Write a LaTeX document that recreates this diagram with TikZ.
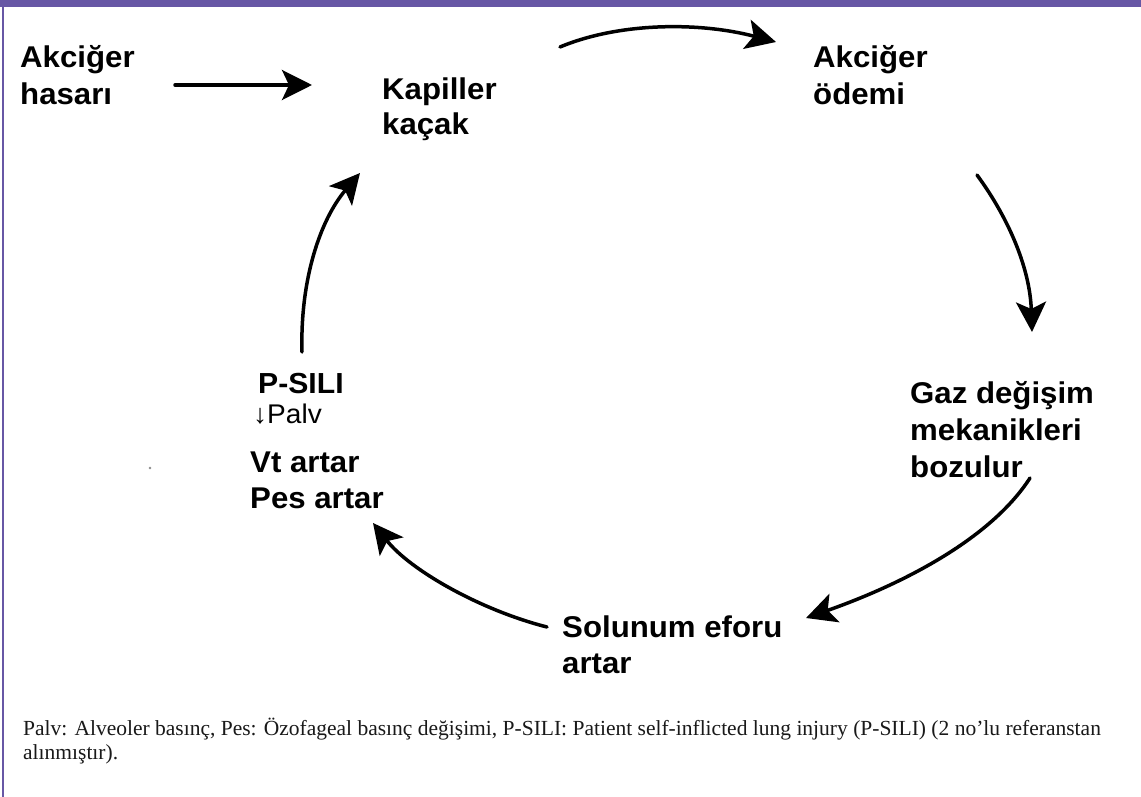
\documentclass[tikz,border=0pt]{standalone}
\usepackage{fontspec}
\usetikzlibrary{arrows.meta}
\newfontfamily\lblfont[FakeStretch=1.04]{Liberation Sans}
\newfontfamily\notefont{Liberation Serif}
\definecolor{barpurple}{HTML}{6757A5}
\tikzset{
  lbl/.style={anchor=base west, inner sep=0pt, align=left, text=black,
    font=\lblfont\bfseries\fontsize{30}{37}\selectfont},
  cyc/.style={line width=3.5pt, line cap=round, -{Stealth[length=30pt,width=30pt,inset=7pt]}},
}
\begin{document}
\begin{tikzpicture}[x=1pt,y=-1pt]
\useasboundingbox (0,0) rectangle (1141,797);
\fill[white] (0,0) rectangle (1141,797);
\fill[barpurple] (0,0) rectangle (1141,7);
\draw[barpurple, line width=1.2pt] (3,7) -- (3,797);

% labels (anchor = baseline of the last line)
\node[lbl] (hasar) at (20,105) {Akciğer\\hasarı};
\node[lbl,font=\lblfont\bfseries\fontsize{30}{35}\selectfont] (kap) at (382,135) {Kapiller\\kaçak};
\node[lbl] (odem) at (813,105) {Akciğer\\ödemi};
\node[lbl] (gaz) at (910,477) {Gaz değişim\\mekanikleri\\bozulur};
\node[lbl,font=\lblfont\bfseries\fontsize{30}{36}\selectfont] (sol) at (562,673) {Solunum eforu\\artar};
\node[lbl,font=\lblfont\bfseries\fontsize{29}{30}\selectfont] (psili) at (253,423) {\hspace{5pt}P-SILI\\{\mdseries\fontsize{27}{30}\selectfont ↓Palv}};
\node[lbl,font=\lblfont\bfseries\fontsize{30}{36}\selectfont] (vt) at (250,508) {Vt artar\\Pes artar};

% footnote
\node[anchor=base west, inner sep=0pt, align=left, text=black!90,
  font=\notefont\fontsize{21.5}{23.5}\selectfont] (note) at (23,759)
  {Palv: Alveoler basınç, Pes: Özofageal basınç değişimi, P-SILI: Patient self-inflicted lung injury (P-SILI) (2 no’lu referanstan\\alınmıştır).};

% stray dot
\fill[black!45] (150,468) circle (1.3);

% arrow end points
\coordinate (a1s) at (175,85);  \coordinate (a1e) at (312,85);
\coordinate (a2s) at (560,47);  \coordinate (a2e) at (776,42);
\coordinate (a3s) at (977,175); \coordinate (a3e) at (1032,332);
\coordinate (a4s) at (1030,478);\coordinate (a4e) at (806,618);
\coordinate (a5s) at (547,627); \coordinate (a5e) at (373,523);
\coordinate (a6s) at (302,352); \coordinate (a6e) at (360,173);

\draw[cyc] (a1s) -- (a1e);
\draw[cyc] (a2s) .. controls (620,22) and (700,22) .. (a2e);
\draw[cyc] (a3s) .. controls (1010,220) and (1030,270) .. (a3e);
\draw[cyc] (a4s) .. controls (990,540) and (900,585) .. (a4e);
\draw[cyc] (a5s) .. controls (480,610) and (410,570) .. (a5e);
\draw[cyc] (a6s) .. controls (300,280) and (320,220) .. (a6e);
\end{tikzpicture}
\end{document}
